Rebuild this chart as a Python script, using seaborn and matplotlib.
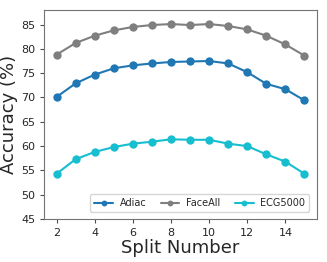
import pandas as pd
import numpy as np
import matplotlib
matplotlib.use('Agg')
import matplotlib.pyplot as plt
import seaborn as sns

splits = list(range(2, 16))
adiac = [70.1, 72.9, 74.7, 76.0, 76.6, 77.0, 77.3, 77.4, 77.5, 77.0, 75.2, 72.8, 71.7, 69.4]
faceall = [78.8, 81.2, 82.7, 83.8, 84.5, 84.9, 85.1, 84.9, 85.1, 84.7, 84.0, 82.7, 80.9, 78.6]
ecg5000 = [54.3, 57.3, 58.8, 59.8, 60.5, 60.9, 61.4, 61.3, 61.3, 60.5, 60.0, 58.3, 56.8, 54.3]

series = {'Adiac': adiac, 'FaceAll': faceall, 'ECG5000': ecg5000}
colors = {'Adiac': 'tab:blue', 'FaceAll': 'tab:gray', 'ECG5000': 'tab:cyan'}

df = pd.DataFrame([
    {'Split Number': s, 'Accuracy': v, 'Dataset': name}
    for name, vals in series.items() for s, v in zip(splits, vals)
])

sns.set_style('ticks')
plt.rcParams['font.family'] = ['DejaVu Sans']

fig = plt.figure(figsize=(3.27, 2.62), dpi=100)
ax = fig.add_axes([0.135, 0.164, 0.834, 0.798])

sns.lineplot(data=df, x='Split Number', y='Accuracy', hue='Dataset',
             palette=colors, marker='o', markersize=6, markeredgewidth=0,
             linewidth=1.5, ax=ax)

ax.set_ylim(45, 88)
ax.set_yticks([45, 50, 55, 60, 65, 70, 75, 80, 85])
ax.set_xticks([2, 4, 6, 8, 10, 12, 14])
ax.tick_params(labelsize=8, length=3, color='0.3')
ax.set_xlabel('Split Number', fontsize=13, labelpad=1)
ax.set_ylabel('Accuracy (%)', fontsize=13, labelpad=2)
for sp in ax.spines.values():
    sp.set_color('0.45')
    sp.set_visible(True)

ax.legend(loc='lower right', ncol=3, fontsize=7, handlelength=1.9,
          markerscale=0.7, columnspacing=1.5, borderpad=0.4,
          handletextpad=0.7, bbox_to_anchor=(0.99, 0.01))

fig.savefig('out.png', dpi=100)
